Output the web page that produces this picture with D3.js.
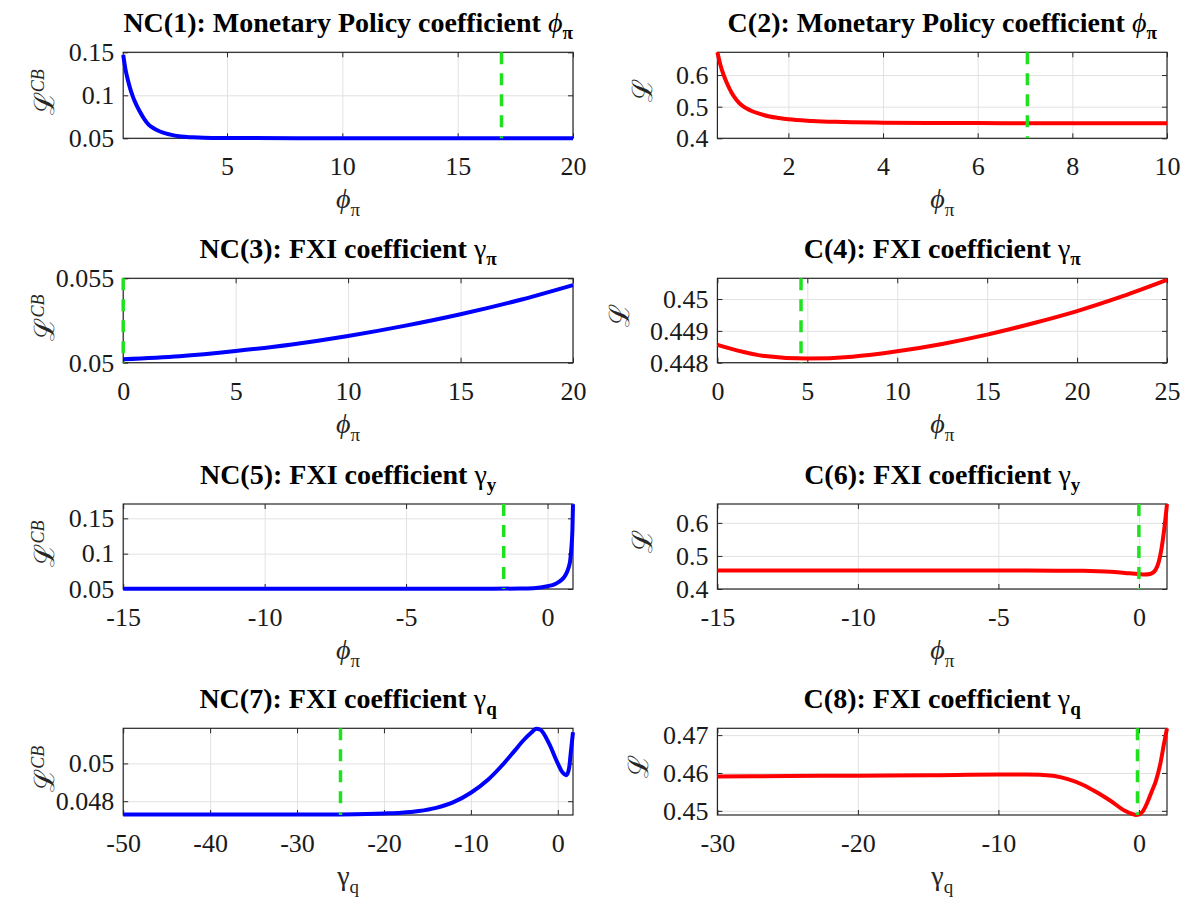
<!DOCTYPE html>
<html>
<head>
<meta charset="utf-8">
<script src="https://cdn.jsdelivr.net/npm/d3@7"></script>
<style>
  body { margin: 0; background: #fff; }
  svg { display: block; }
  text { font-family: "Liberation Serif", "Times New Roman", "DejaVu Serif", serif; }
</style>
</head>
<body>
<svg id="fig" width="1191" height="905"></svg>
<script>
// ---- data ----
// NC(1): loss vs phi_pi
const nc1X = [0.5, 0.6, 0.7, 0.8, 0.9, 1.0, 1.2, 1.4, 1.6, 1.8, 2.0, 2.5, 3, 3.5, 4, 5, 6, 8, 10, 12, 15, 17, 20];
const nc1Y = [0.147, 0.130, 0.118, 0.108, 0.100, 0.093, 0.082, 0.073, 0.066, 0.062, 0.059, 0.0545, 0.052, 0.0512, 0.0507, 0.0504, 0.0503, 0.0502, 0.0502, 0.0502, 0.0502, 0.0502, 0.0502];
// C(2): loss vs phi_pi
const c2X = [0.5, 0.55, 0.6, 0.65, 0.7, 0.8, 0.9, 1.0, 1.2, 1.4, 1.6, 1.8, 2.0, 2.5, 3, 4, 5, 6, 7, 8, 10];
const c2Y = [0.672, 0.640, 0.614, 0.593, 0.575, 0.544, 0.522, 0.506, 0.488, 0.477, 0.469, 0.464, 0.460, 0.455, 0.452, 0.4495, 0.4485, 0.448, 0.4478, 0.4476, 0.4474];
// NC(3): loss vs gamma_pi
const nc3X = [0, 2.5, 5, 7.5, 10, 12.5, 15, 17.5, 20];
const nc3Y = [0.05020, 0.05038, 0.05069, 0.05108, 0.05158, 0.05218, 0.05287, 0.05367, 0.05460];
// C(4): loss vs gamma_pi
const c4X = [0, 2.5, 5, 7.5, 10, 12.5, 15, 17.5, 20, 22.5, 25];
const c4Y = [0.44856, 0.44822, 0.44813, 0.44819, 0.44836, 0.44859, 0.44888, 0.44923, 0.44962, 0.45008, 0.45060];
// NC(5): loss vs gamma_y
const nc5X = [-15, -10, -5, -2, -1, -0.5, 0, 0.2, 0.4, 0.5, 0.6, 0.7, 0.75, 0.8, 0.85, 0.88, 0.9];
const nc5Y = [0.0503, 0.0503, 0.0503, 0.0504, 0.0506, 0.0512, 0.054, 0.056, 0.060, 0.063, 0.0675, 0.075, 0.081, 0.090, 0.112, 0.135, 0.170];
// C(6): loss vs gamma_y
const c6X = [-15, -10, -5, -3, -2, -1, -0.5, 0, 0.2, 0.4, 0.5, 0.6, 0.7, 0.8, 0.9, 1.0];
const c6Y = [0.4558, 0.4558, 0.4557, 0.4555, 0.4550, 0.4520, 0.4485, 0.4450, 0.4440, 0.4455, 0.4495, 0.4590, 0.4800, 0.5200, 0.5800, 0.6570];
// NC(7): loss vs gamma_q
const nc7X = [-50, -40, -30, -25, -22, -20, -18, -16, -14, -12, -10, -8, -6.5, -5, -4, -3, -2.5, -2, -1, 0, 0.5, 1.0, 1.3, 1.5, 1.75];
const nc7Y = [0.04729, 0.04729, 0.04729, 0.04730, 0.04732, 0.04735, 0.04739, 0.04748, 0.04765, 0.04795, 0.04845, 0.04915, 0.04985, 0.05065, 0.05120, 0.05165, 0.05184, 0.05178, 0.05105, 0.05000, 0.04955, 0.04938, 0.04975, 0.05060, 0.05165];
// C(8): loss vs gamma_q
const c8X = [-30, -25, -20, -15, -10, -8, -7, -6, -5, -4, -3, -2, -1, -0.5, -0.2, 0, 0.3, 0.6, 0.9, 1.2, 1.5, 1.8, 2];
const c8Y = [0.4591, 0.4592, 0.4593, 0.4594, 0.4596, 0.4596, 0.4595, 0.4592, 0.4583, 0.4569, 0.4549, 0.4526, 0.4500, 0.4492, 0.4489, 0.4490, 0.4500, 0.4522, 0.4550, 0.4578, 0.4620, 0.4680, 0.4718];

// optimum markers (green dashed lines)
const optX = [16.9, 7.05, 0, 4.65, -1.55, 0, -25, -0.1];

// axis limits
const xLims = [[0.5, 20], [0.5, 10], [0, 20], [0, 25], [-15, 0.9], [-15, 1], [-50, 1.75], [-30, 2]];
const yLims = [[0.05, 0.15], [0.4, 0.672], [0.05, 0.055], [0.448, 0.45065], [0.05, 0.1703], [0.4, 0.657], [0.04727, 0.05186], [0.4489, 0.4718]];

// ticks
const xTicks = [[5, 10, 15, 20], [2, 4, 6, 8, 10], [0, 5, 10, 15, 20], [0, 5, 10, 15, 20, 25],
  [-15, -10, -5, 0], [-15, -10, -5, 0], [-50, -40, -30, -20, -10, 0], [-30, -20, -10, 0]];
const xTickLabels = [["5", "10", "15", "20"], ["2", "4", "6", "8", "10"], ["0", "5", "10", "15", "20"], ["0", "5", "10", "15", "20", "25"],
  ["-15", "-10", "-5", "0"], ["-15", "-10", "-5", "0"], ["-50", "-40", "-30", "-20", "-10", "0"], ["-30", "-20", "-10", "0"]];
const yTicks = [[0.05, 0.1, 0.15], [0.4, 0.5, 0.6], [0.05, 0.055], [0.448, 0.449, 0.45],
  [0.05, 0.1, 0.15], [0.4, 0.5, 0.6], [0.048, 0.05], [0.45, 0.46, 0.47]];
const yTickLabels = [["0.05", "0.1", "0.15"], ["0.4", "0.5", "0.6"], ["0.05", "0.055"], ["0.448", "0.449", "0.45"],
  ["0.05", "0.1", "0.15"], ["0.4", "0.5", "0.6"], ["0.048", "0.05"], ["0.45", "0.46", "0.47"]];

// titles: prefix, greek symbol, bold subscript
const titlePre = ["NC(1): Monetary Policy coefficient ", "C(2): Monetary Policy coefficient ",
  "NC(3): FXI coefficient ", "C(4): FXI coefficient ", "NC(5): FXI coefficient ", "C(6): FXI coefficient ",
  "NC(7): FXI coefficient ", "C(8): FXI coefficient "];
const titleSym = ["ϕ", "ϕ", "γ", "γ", "γ", "γ", "γ", "γ"];
const titleSub = ["π", "π", "π", "π", "y", "y", "q", "q"];
const xLabSym = ["ϕ", "ϕ", "ϕ", "ϕ", "ϕ", "ϕ", "γ", "γ"];
const xLabSub = ["π", "π", "π", "π", "π", "π", "q", "q"];
const yLabSup = ["CB", "", "CB", "", "CB", "", "CB", ""];

const seriesX = [nc1X, c2X, nc3X, c4X, nc5X, c6X, nc7X, c8X];
const seriesY = [nc1Y, c2Y, nc3Y, c4Y, nc5Y, c6Y, nc7Y, c8Y];

// ---- layout ----
const colX = [[123.2, 573], [717.4, 1167]];
const rowY = [[52.3, 138.3], [278.3, 362.7], [504, 589], [728.3, 815]];
const yLabX = [54, 652, 54, 629, 54, 652, 54, 648];
const lineColor = ["#0000ff", "#ff0000"];
const serif = '"Liberation Serif", "Times New Roman", serif';

const svg = d3.select("#fig");

function styleAxis(s, fs) {
    s.attr("font-family", serif).attr("font-size", fs);
    s.select(".domain").remove();
    s.selectAll(".tick line").attr("stroke", "#262626");
    s.selectAll(".tick text").attr("fill", "#1a1a1a");
}

function drawPanel(i) {
    const col = i % 2, row = Math.floor(i / 2);
    const [x0, x1] = colX[col];
    const [y0, y1] = rowY[row];
    const x = d3.scaleLinear().domain(xLims[i]).range([x0, x1]);
    const y = d3.scaleLinear().domain(yLims[i]).range([y1, y0]);
    const g = svg.append("g");

    // grid
    g.append("g").attr("transform", `translate(0,${y1})`)
        .call(d3.axisBottom(x).tickValues(xTicks[i]).tickSize(-(y1 - y0)).tickFormat(""))
        .call(s => { s.select(".domain").remove(); s.selectAll("line").attr("stroke", "#e2e2e2"); });
    g.append("g").attr("transform", `translate(${x0},0)`)
        .call(d3.axisLeft(y).tickValues(yTicks[i]).tickSize(-(x1 - x0)).tickFormat(""))
        .call(s => { s.select(".domain").remove(); s.selectAll("line").attr("stroke", "#e2e2e2"); });

    // box
    g.append("rect").attr("x", x0).attr("y", y0).attr("width", x1 - x0).attr("height", y1 - y0)
        .attr("fill", "none").attr("stroke", "#262626").attr("stroke-width", 1.2);

    // ticks on all four sides, pointing inward
    g.append("g").attr("transform", `translate(0,${y1})`)
        .call(d3.axisBottom(x).tickValues(xTicks[i]).tickFormat((d, k) => xTickLabels[i][k]).tickSize(-5).tickPadding(18.5))
        .call(s => styleAxis(s, 26));
    g.append("g").attr("transform", `translate(${x0},0)`)
        .call(d3.axisLeft(y).tickValues(yTicks[i]).tickFormat((d, k) => yTickLabels[i][k]).tickSize(-5).tickPadding(9))
        .call(s => styleAxis(s, 26));
    g.append("g").attr("transform", `translate(0,${y0})`)
        .call(d3.axisTop(x).tickValues(xTicks[i]).tickFormat("").tickSize(-5))
        .call(s => styleAxis(s, 26));
    g.append("g").attr("transform", `translate(${x1},0)`)
        .call(d3.axisRight(y).tickValues(yTicks[i]).tickFormat("").tickSize(-5))
        .call(s => styleAxis(s, 26));

    // curve
    const clipId = "clip" + i;
    svg.append("clipPath").attr("id", clipId).append("rect")
        .attr("x", x0 - 3).attr("y", y0 - 3).attr("width", x1 - x0 + 6).attr("height", y1 - y0 + 6);
    const pts = seriesX[i].map((v, k) => [v, seriesY[i][k]]);
    const line = d3.line().x(d => x(d[0])).y(d => y(d[1])).curve(d3.curveMonotoneX);
    g.append("path").datum(pts).attr("d", line).attr("clip-path", `url(#${clipId})`)
        .attr("fill", "none").attr("stroke", lineColor[col]).attr("stroke-width", 4)
        .attr("stroke-linejoin", "round");

    // optimum
    g.append("line").attr("x1", x(optX[i])).attr("x2", x(optX[i])).attr("y1", y0).attr("y2", y1)
        .attr("stroke", "#1ee21e").attr("stroke-width", 3.5).attr("stroke-dasharray", "12,9");

    // title
    const cx = (x0 + x1) / 2;
    const t = g.append("text").attr("x", cx).attr("y", y0 - 20).attr("text-anchor", "middle")
        .attr("font-family", serif).attr("font-size", 28).attr("font-weight", "bold").attr("fill", "#000");
    t.append("tspan").text(titlePre[i]);
    t.append("tspan").text(titleSym[i]).attr("font-weight", "normal")
        .attr("font-style", titleSym[i] === "ϕ" ? "italic" : "normal");
    t.append("tspan").text(titleSub[i]).attr("font-size", 19).attr("dy", 7);

    // x label
    const xl = g.append("text").attr("x", cx).attr("y", y1 + 70).attr("text-anchor", "middle")
        .attr("font-family", serif).attr("font-size", 28).attr("fill", "#262626");
    xl.append("tspan").text(xLabSym[i]).attr("font-style", xLabSym[i] === "ϕ" ? "italic" : "normal");
    xl.append("tspan").text(xLabSub[i]).attr("font-size", 19).attr("dy", 8);

    // y label
    const cy = (y0 + y1) / 2 - (yLabSup[i] ? 3 : 5);
    const yl = g.append("text").attr("transform", `translate(${yLabX[i]},${cy}) rotate(-90)`)
        .attr("text-anchor", "middle").attr("font-family", serif).attr("font-size", 28).attr("fill", "#262626");
    yl.append("tspan").text("ℒ");
    if (yLabSup[i]) {
        yl.append("tspan").text(yLabSup[i]).attr("font-size", 18).attr("font-style", "italic").attr("dy", -10);
    }
}

for (let i = 0; i < 8; i++) drawPanel(i);
</script>
</body>
</html>
